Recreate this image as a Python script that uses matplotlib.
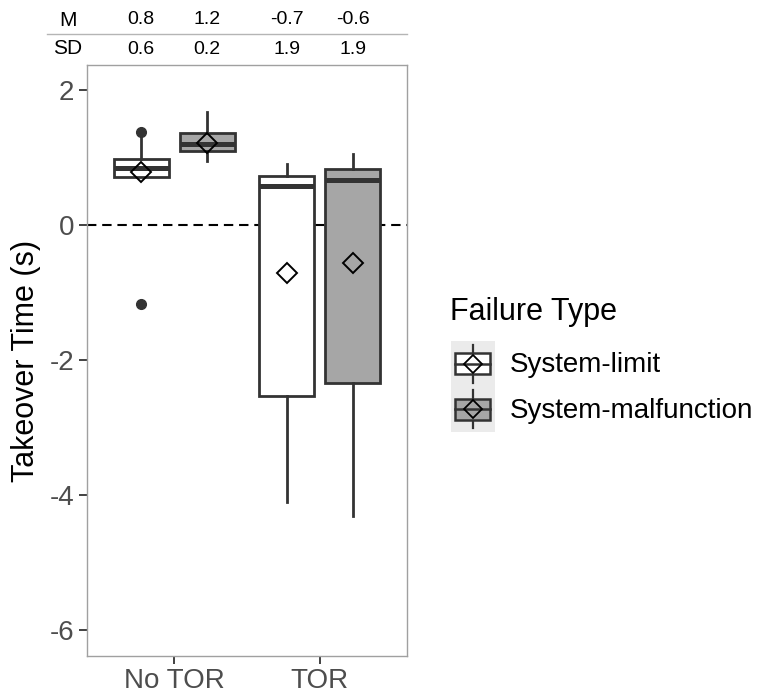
import matplotlib
matplotlib.use("Agg")
import matplotlib.pyplot as plt
import matplotlib.transforms as mtransforms
from matplotlib.patches import Rectangle
from matplotlib.lines import Line2D
from matplotlib.legend_handler import HandlerBase

plt.rcParams['font.family'] = ['Liberation Sans', 'DejaVu Sans']

# ---- data ----
conditions = ["No TOR", "TOR"]
failure_types = ["System-limit", "System-malfunction"]
fill_colors = ["#FFFFFF", "#A6A6A6"]

# per (condition, failure type): order NoTOR-SL, NoTOR-SM, TOR-SL, TOR-SM
q1 = [0.71, 1.09, -2.53, -2.34]
median = [0.84, 1.20, 0.58, 0.67]
q3 = [0.97, 1.36, 0.73, 0.83]
whisker_lo = [0.71, 0.94, -4.11, -4.31]
whisker_hi = [1.36, 1.68, 0.90, 1.05]
outliers = [[1.38, -1.17], [], [], []]
means = [0.78, 1.22, -0.72, -0.56]

table_M = ["0.8", "1.2", "-0.7", "-0.6"]
table_SD = ["0.6", "0.2", "1.9", "1.9"]

y_ticks = [2, 0, -2, -4, -6]

# ---- figure ----
W, H = 758, 693
fig = plt.figure(figsize=(W / 100, H / 100), dpi=100)
ax = fig.add_axes([87 / W, 1 - 656 / H, (407 - 87) / W, (656 - 65) / H])

edge = "#333333"
offset = 0.227
bw = 0.38
positions = []
for ci in range(len(conditions)):
    for fi in range(len(failure_types)):
        positions.append(ci + (fi - 0.5) * 2 * offset)

ax.axhline(0, color="black", lw=1.5, ls=(0, (4.5, 2.8)), zorder=1)

stats = []
for i in range(len(positions)):
    stats.append(dict(med=median[i], q1=q1[i], q3=q3[i], whislo=whisker_lo[i],
                      whishi=whisker_hi[i], fliers=outliers[i]))

for i, st in enumerate(stats):
    fi = i % 2
    ax.bxp([st], positions=[positions[i]], widths=bw, patch_artist=True,
           showcaps=False, showfliers=True,
           boxprops=dict(facecolor=fill_colors[fi], edgecolor=edge, linewidth=2.0),
           whiskerprops=dict(color=edge, linewidth=2.0),
           medianprops=dict(color=edge, linewidth=3.6, solid_capstyle='butt'),
           flierprops=dict(marker='o', markerfacecolor=edge, markeredgecolor=edge,
                           markersize=7, linestyle='none'),
           zorder=2)
    ax.plot([positions[i]], [means[i]], marker='D', markersize=10,
            markerfacecolor='none', markeredgecolor='black', markeredgewidth=1.4,
            linestyle='none', zorder=5)

ax.set_xlim(-0.60, 1.60)
ax.set_ylim(-6.39, 2.37)
ax.set_xticks(range(len(conditions)))
ax.set_xticklabels(conditions)
ax.set_yticks(y_ticks)
ax.set_yticklabels([str(t) for t in y_ticks])
ax.tick_params(axis='both', labelsize=20, labelcolor="#4D4D4D", color="#333333",
               length=6, width=1.3, pad=3)
for s in ax.spines.values():
    s.set_color("#A0A0A0")
    s.set_linewidth(1.0)
ax.set_ylabel("Takeover Time (s)", fontsize=22, color="black", labelpad=6)

# ---- top table ----
trans = mtransforms.blended_transform_factory(ax.transData, fig.transFigure)
fig.text(68 / W, 1 - 20 / H, "M", fontsize=15, ha="center", va="center")
fig.text(68 / W, 1 - 49 / H, "SD", fontsize=15, ha="center", va="center")
for i, p in enumerate(positions):
    ax.text(p, 1 - 20 / H, table_M[i], transform=trans, fontsize=14,
            ha="center", va="center", clip_on=False)
    ax.text(p, 1 - 49 / H, table_SD[i], transform=trans, fontsize=14,
            ha="center", va="center", clip_on=False)
fig.add_artist(Line2D([47 / W, 407 / W], [1 - 33.5 / H, 1 - 33.5 / H],
                      transform=fig.transFigure, color="#B5B5B5", lw=1.0))


# ---- legend ----
class BoxKeyHandler(HandlerBase):
    def create_artists(self, legend, orig_handle, xdescent, ydescent, width, height,
                       fontsize, trans):
        x0, y0 = -xdescent, -ydescent
        fc = orig_handle.get_facecolor()
        arts = []
        arts.append(Rectangle((x0, y0), width, height, facecolor="#EBEBEB",
                              edgecolor="none", transform=trans))
        cx = x0 + width / 2
        cy = y0 + height / 2
        arts.append(Line2D([cx, cx], [y0 + 0.08 * height, y0 + 0.92 * height],
                           color=edge, lw=1.6, transform=trans))
        arts.append(Rectangle((x0 + 0.11 * width, y0 + 0.27 * height), 0.78 * width,
                              0.46 * height, facecolor=fc, edgecolor=edge, lw=1.8,
                              transform=trans))
        arts.append(Line2D([x0 + 0.11 * width, x0 + 0.89 * width], [cy, cy],
                           color=edge, lw=1.8, transform=trans))
        arts.append(Line2D([cx], [cy], marker='D', markersize=9,
                           markerfacecolor='none', markeredgecolor='black',
                           markeredgewidth=1.3, transform=trans))
        return arts


handles = [Rectangle((0, 0), 1, 1, facecolor=c) for c in fill_colors]
leg = fig.legend(handles, failure_types, loc="upper left",
                 bbox_to_anchor=(450.5 / W, 1 - 297 / H), frameon=False,
                 fontsize=20, title="Failure Type", title_fontsize=22,
                 handler_map={Rectangle: BoxKeyHandler()},
                 handlelength=1.6, handleheight=2.15, handletextpad=0.55,
                 labelspacing=0.0, borderpad=0, borderaxespad=0,
                 alignment="left")
leg._legend_box.sep = 10

fig.savefig("out.png", dpi=100)
